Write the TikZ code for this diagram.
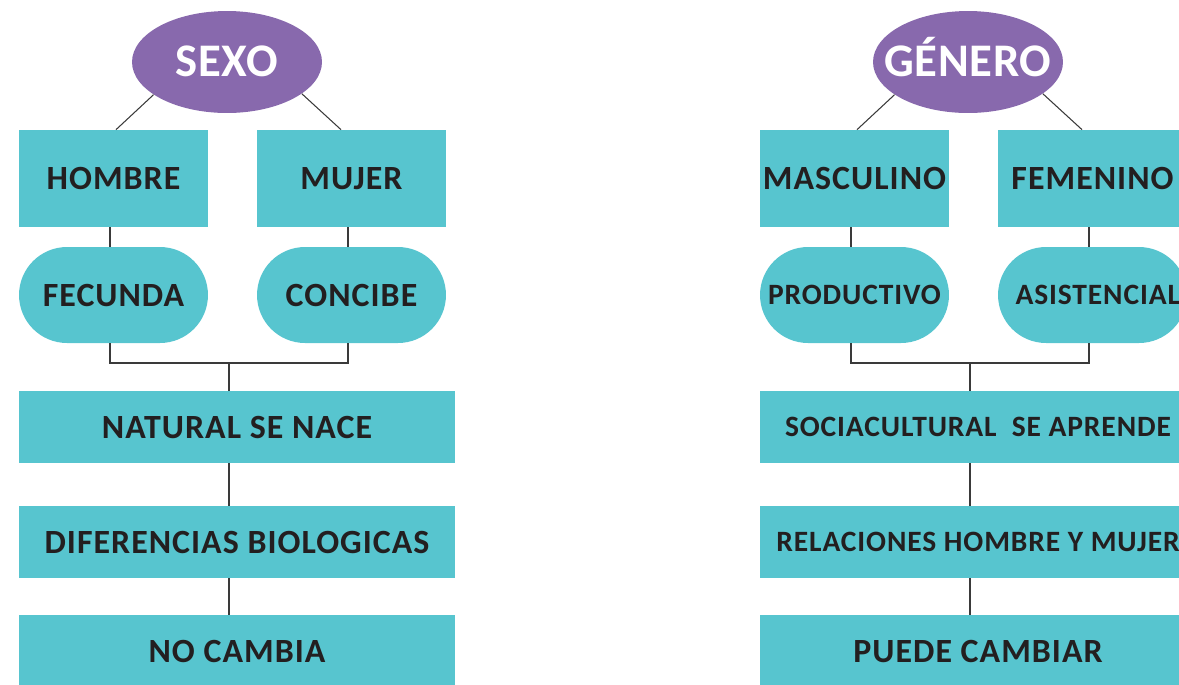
\documentclass[tikz,border=0pt]{standalone}
\usepackage{fontspec}
\setmainfont{Carlito}[LetterSpace=3]
\usepackage{tikz}
\usetikzlibrary{calc, shapes.geometric}

\definecolor{turquesa}{HTML}{57C5CF}
\definecolor{morado}{HTML}{8869AD}
\definecolor{tinta}{HTML}{231F20}
\definecolor{linea}{HTML}{3A3A3A}

\begin{document}
\begin{tikzpicture}[x = 0.02cm, y = -0.02cm,
	titulo/.style = {ellipse, fill = morado, inner sep = 0pt,
		minimum width = 3.8cm, minimum height = 2.04cm,
		label = {[rotulo]center:#1}},
	rotulo/.style = {text = white, inner sep = 0pt, text height = 17pt, text depth = 0pt,
		font = \bfseries\fontsize{26.6}{30}\selectfont\addfontfeatures{LetterSpace=1.5}},
	caja/.style = {rectangle, fill = turquesa, text = tinta, inner sep = 0pt,
		minimum width = 3.78cm, minimum height = 1.94cm,
		font = \bfseries\fontsize{19.3}{22}\selectfont},
	pildora/.style = {caja, rounded corners = 0.96cm, minimum height = 1.92cm},
	franja/.style = {caja, minimum width = 8.72cm, minimum height = 1.44cm},
	menor/.style = {font = \bfseries\fontsize{16.8}{20}\selectfont},
	enlace/.style = {draw = linea, line width = 0.6pt}]
	\useasboundingbox (0,0) rectangle (1179,684);
	\clip (0,0) rectangle (1179,684);

	% sexo
	\begin{scope}
		\node [titulo = SEXO] (sexo) at (227,62) {};
		\node [caja] (hombre) at (113.5,178.5) {HOMBRE};
		\node [caja] (mujer) at (351.5,178.5) {MUJER};
		\node [pildora] (fecunda) at (113.5,295) {FECUNDA};
		\node [pildora] (concibe) at (351.5,295) {CONCIBE};
		\node [franja] (natural) at (237,427) {NATURAL SE NACE};
		\node [franja] (diferencias) at (237,542) {DIFERENCIAS BIOLOGICAS};
		\node [franja] (nocambia) at (237,651) {NO CAMBIA};
		\coordinate (unionsexo) at (229,363);
	\end{scope}
	\begin{scope}[enlace]
		\draw (sexo.204) -- ($(hombre.north)+(2.5,0)$);
		\draw (sexo.337) -- ($(mujer.north)+(-10.5,0)$);
		\draw ($(hombre.south)+(-3.5,0)$) -- ($(fecunda.north)+(-3.5,0)$);
		\draw ($(mujer.south)+(-3.5,0)$) -- ($(concibe.north)+(-3.5,0)$);
		\draw ($(fecunda.south)+(-3.5,0)$) |- (unionsexo) -| ($(concibe.south)+(-3.5,0)$);
		\draw (unionsexo) -- (unionsexo |- natural.north);
		\draw (unionsexo |- natural.south) -- (unionsexo |- diferencias.north);
		\draw (unionsexo |- diferencias.south) -- (unionsexo |- nocambia.north);
	\end{scope}

	% genero
	\begin{scope}
		\node [titulo = GÉNERO] (genero) at (968,62) {};
		\node [caja] (masculino) at (854.5,178.5) {MASCULINO};
		\node [caja] (femenino) at (1092.5,178.5) {FEMENINO};
		\node [pildora, menor] (productivo) at (854.5,295) {PRODUCTIVO};
		\node [pildora, menor] (asistencial) at (1092.5,295) {\hspace{6pt}ASISTENCIAL};
		\node [franja, menor] (sociocultural) at (978,427) {SOCIACULTURAL\ \ SE APRENDE};
		\node [franja, menor] (relaciones) at (978,542) {RELACIONES HOMBRE Y MUJER};
		\node [franja] (puede) at (978,651) {PUEDE CAMBIAR};
		\coordinate (uniongenero) at (970,363);
	\end{scope}
	\begin{scope}[enlace]
		\draw (genero.204) -- ($(masculino.north)+(2.5,0)$);
		\draw (genero.337) -- ($(femenino.north)+(-10.5,0)$);
		\draw ($(masculino.south)+(-3.5,0)$) -- ($(productivo.north)+(-3.5,0)$);
		\draw ($(femenino.south)+(-3.5,0)$) -- ($(asistencial.north)+(-3.5,0)$);
		\draw ($(productivo.south)+(-3.5,0)$) |- (uniongenero) -| ($(asistencial.south)+(-3.5,0)$);
		\draw (uniongenero) -- (uniongenero |- sociocultural.north);
		\draw (uniongenero |- sociocultural.south) -- (uniongenero |- relaciones.north);
		\draw (uniongenero |- relaciones.south) -- (uniongenero |- puede.north);
	\end{scope}
\end{tikzpicture}
\end{document}
